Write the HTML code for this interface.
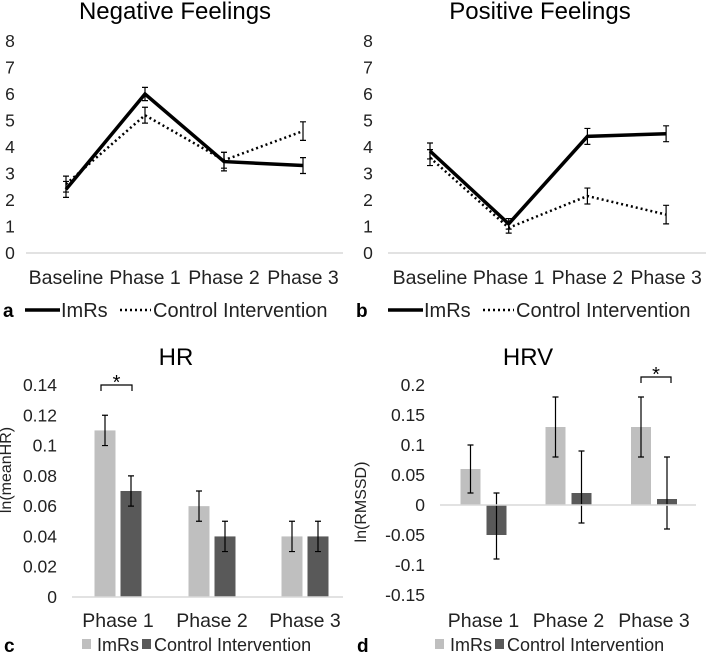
<!DOCTYPE html>
<html><head><meta charset="utf-8"><style>
body{margin:0;background:#fff}
svg{display:block;font-family:"Liberation Sans",sans-serif}
</style></head><body>
<svg id="fig" width="706" height="663" viewBox="0 0 706 663" xmlns="http://www.w3.org/2000/svg"></svg>
<script>
// Panel a: Negative Feelings
const lineCats = ["Baseline","Phase 1","Phase 2","Phase 3"];
const negImRs = [2.4, 6.0, 3.45, 3.3];
const negImRsErr = [0.3, 0.25, 0.35, 0.3];
const negCtrl = [2.6, 5.2, 3.5, 4.6];
const negCtrlErr = [0.3, 0.3, 0.3, 0.35];
// Panel b: Positive Feelings
const posImRs = [3.85, 1.1, 4.4, 4.5];
const posImRsErr = [0.3, 0.2, 0.3, 0.3];
const posCtrl = [3.6, 0.95, 2.15, 1.45];
const posCtrlErr = [0.3, 0.2, 0.3, 0.35];
const lineTicks = [0,1,2,3,4,5,6,7,8];
// Panel c: HR
const barCats = ["Phase 1","Phase 2","Phase 3"];
const hrImRs = [0.11, 0.06, 0.04];
const hrImRsErr = [0.01, 0.01, 0.01];
const hrCtrl = [0.07, 0.04, 0.04];
const hrCtrlErr = [0.01, 0.01, 0.01];
const hrTicks = ["0","0.02","0.04","0.06","0.08","0.1","0.12","0.14"];
// Panel d: HRV
const hrvImRs = [0.06, 0.13, 0.13];
const hrvImRsLo = [0.02, 0.08, 0.08];
const hrvImRsHi = [0.10, 0.18, 0.18];
const hrvCtrl = [-0.05, 0.02, 0.01];
const hrvCtrlLo = [-0.09, -0.03, -0.04];
const hrvCtrlHi = [0.02, 0.09, 0.08];
const hrvTicks = ["-0.15","-0.1","-0.05","0","0.05","0.1","0.15","0.2"];

const svg = document.getElementById('fig');
const NS = "http://www.w3.org/2000/svg";
function mk(tag, attrs, parent, text){
  const e = document.createElementNS(NS, tag);
  for (const k in attrs) e.setAttribute(k, attrs[k]);
  if (text !== undefined) e.textContent = text;
  (parent||svg).appendChild(e);
  return e;
}

function linePanel(ox, title, titleX, letter, s1, e1, s2, e2, cx0, cstep, tickX, axX0, axX1, legX){
  const g = mk('g', {});
  
  
  const y = v => 253 - v * 26.5;
  const x = i => cx0 + i * cstep;
  const t = mk('text', {x: titleX, y: 19, 'font-size': 24, 'text-anchor': 'middle', fill: '#000'}, g, title);
  
  
  lineTicks.forEach(v => {
    const tl = mk('text', {x: tickX, y: y(v) + 6, 'font-size': 17.5, 'text-anchor': 'middle', fill: '#222'}, g, String(v));
    
    
  });
  const ax = mk('line', {x1: axX0, x2: axX1, y1: 253, y2: 253, stroke: '#d9d9d9', 'stroke-width': 1.5}, g);
  
  
  lineCats.forEach((c, i) => {
    const cl = mk('text', {x: x(i), y: 284, 'font-size': 19.5, 'text-anchor': 'middle', fill: '#222'}, g, c);
    
    
  });
  [[s2, e2, '2 3', 2.5, 'control-line'], [s1, e1, null, 3.5, 'imrs-line']].forEach(([s, e, dash, w, nm]) => {
    const pts = s.map((v, i) => x(i) + ',' + y(v)).join(' ');
    const a = {points: pts, fill: 'none', stroke: '#000', 'stroke-width': w};
    if (dash) a['stroke-dasharray'] = dash;
    const pl = mk('polyline', a, g);
    
    
    s.forEach((v, i) => {
      const eb = mk('path', {d: `M${x(i)-3},${y(v+e[i])}h6M${x(i)},${y(v+e[i])}V${y(v-e[i])}M${x(i)-3},${y(v-e[i])}h6`, stroke: '#000', 'stroke-width': 1.2, fill: 'none'}, g);
      
      
    });
  });
  const lg = mk('g', {}, g);
  
  
  mk('text', {x: ox + 3, y: 317, 'font-size': 19, 'font-weight': 'bold', fill: '#000'}, lg, letter);
  mk('line', {x1: legX, x2: legX + 35, y1: 310, y2: 310, stroke: '#000', 'stroke-width': 3.5}, lg);
  mk('text', {x: legX + 36, y: 317, 'font-size': 20, fill: '#222'}, lg, 'ImRs');
  mk('line', {x1: legX + 95, x2: legX + 126, y1: 310, y2: 310, stroke: '#000', 'stroke-width': 2.5, 'stroke-dasharray': '2 3'}, lg);
  mk('text', {x: legX + 128, y: 317, 'font-size': 20, fill: '#222'}, lg, 'Control Intervention');
}

linePanel(0, 'Negative Feelings', 175, 'a', negImRs, negImRsErr, negCtrl, negCtrlErr, 66, 79, 10, 26, 343, 25);
linePanel(353, 'Positive Feelings', 540, 'b', posImRs, posImRsErr, posCtrl, posCtrlErr, 430, 78.7, 368, 388, 706, 388);

function barPanel(ox, title, titleX, letter, yfn, ticks, tickVals, tickRX, axX0, axX1, y0, centers, bw, gap, a, aLo, aHi, b, bLo, bHi, yTitle, yTitleX, yTitleY, star){
  const g = mk('g', {});
  
  
  const t = mk('text', {x: titleX, y: 365, 'font-size': 24, 'text-anchor': 'middle', fill: '#000'}, g, title);
  
  
  ticks.forEach((lab, i) => {
    const tl = mk('text', {x: tickRX, y: yfn(tickVals[i]) + 6, 'font-size': 17.5, 'text-anchor': 'end', fill: '#222'}, g, lab);
    
    
  });
  const yt = mk('text', {x: yTitleX, y: yTitleY, 'font-size': 16, 'text-anchor': 'middle', fill: '#222', transform: `rotate(-90 ${yTitleX} ${yTitleY})`}, g, yTitle);
  
  
  barCats.forEach((c, i) => {
    const cx = centers[i];
    [[a[i], aLo[i], aHi[i], cx - gap/2 - bw, '#bfbfbf', 'bar-imrs'], [b[i], bLo[i], bHi[i], cx + gap/2, '#595959', 'bar-control']].forEach(([v, lo, hi, bx, col, nm]) => {
      const r = mk('rect', {x: bx, y: Math.min(yfn(v), y0), width: bw, height: Math.abs(y0 - yfn(v)), fill: col}, g);
      
      
      const m = bx + bw/2;
      const eb = mk('path', {d: `M${m-3},${yfn(hi)}h6M${m},${yfn(hi)}V${yfn(lo)}M${m-3},${yfn(lo)}h6`, stroke: '#000', 'stroke-width': 1.2, fill: 'none'}, g);
      
      
    });
    const cl = mk('text', {x: cx, y: 627, 'font-size': 19.5, 'text-anchor': 'middle', fill: '#222'}, g, c);
    
    
  });
  const ax = mk('line', {x1: axX0, x2: axX1, y1: y0, y2: y0, stroke: '#d9d9d9', 'stroke-width': 1.5}, g);
  
  
  const sg = mk('g', {}, g);
  
  
  mk('path', {d: `M${star[0]},${star[2]+6}V${star[2]}H${star[1]}V${star[2]+6}`, stroke: '#000', 'stroke-width': 1.2, fill: 'none'}, sg);
  mk('text', {x: (star[0]+star[1])/2, y: star[2] + 4, 'font-size': 20, 'text-anchor': 'middle', fill: '#000'}, sg, '*');
  const lg = mk('g', {}, g);
  
  
  mk('text', {x: ox + 4, y: 652, 'font-size': 19, 'font-weight': 'bold', fill: '#000'}, lg, letter);
  mk('rect', {x: ox + 82, y: 639, width: 9, height: 10, fill: '#bfbfbf'}, lg);
  mk('text', {x: ox + 97, y: 651, 'font-size': 18, fill: '#222'}, lg, 'ImRs');
  mk('rect', {x: ox + 142, y: 639, width: 9, height: 10, fill: '#595959'}, lg);
  mk('text', {x: ox + 154, y: 651, 'font-size': 18, fill: '#222'}, lg, 'Control Intervention');
}

const hrY = v => 597 - v * (212 / 0.14);
barPanel(0, 'HR', 176, 'c', hrY, hrTicks, hrTicks.map(Number), 57, 72, 343, 597, [118, 212, 305], 21, 5,
  hrImRs, hrImRs.map((v,i)=>v-hrImRsErr[i]), hrImRs.map((v,i)=>v+hrImRsErr[i]),
  hrCtrl, hrCtrl.map((v,i)=>v-hrCtrlErr[i]), hrCtrl.map((v,i)=>v+hrCtrlErr[i]),
  'ln(meanHR)', 11, 470, [101, 132, 385]);

const hrvY = v => 505 - v * 600;
barPanel(353, 'HRV', 528, 'd', hrvY, hrvTicks, hrvTicks.map(Number), 425, 440, 696, 505, [483.5, 568.5, 654], 20, 6,
  hrvImRs, hrvImRsLo, hrvImRsHi, hrvCtrl, hrvCtrlLo, hrvCtrlHi,
  'ln(RMSSD)', 366, 502, [641, 671, 377]);
</script>
</body></html>
